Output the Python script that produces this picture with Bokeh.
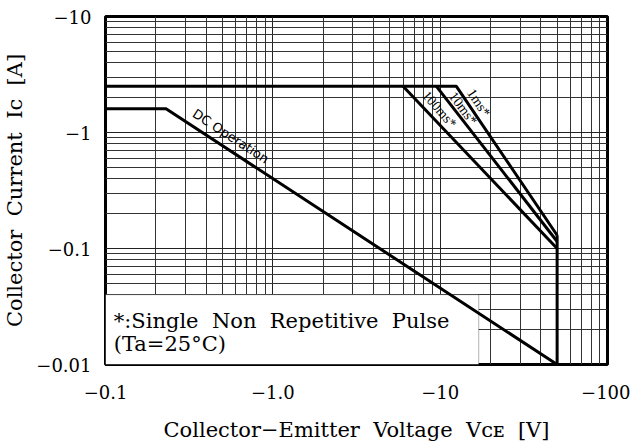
from bokeh.plotting import figure
from bokeh.models import FixedTicker, Label, BoxAnnotation
from bokeh.embed import file_html
from bokeh.resources import INLINE

# ---- data (magnitudes; axes labelled negative) ----
x_major = [0.1, 1, 10, 100]
x_labels = ["\u22120.1", "\u22121.0", "\u221210", "\u2212100"]
y_major = [0.01, 0.1, 1, 10]
y_labels = ["\u22120.01", "\u22120.1", "\u22121", "\u221210"]

dc_v = [0.1, 0.23, 50]
dc_i = [1.6, 1.6, 0.01]
p1ms_v = [0.1, 12.5, 50]
p1ms_i = [2.5, 2.5, 0.13]
p10ms_v = [9.5, 50]
p10ms_i = [2.5, 0.115]
p100ms_v = [6.0, 50]
p100ms_i = [2.5, 0.1]
vceo_v = [50, 50]
vceo_i = [0.01, 0.13]

x_minor = [m * d for d in [0.1, 1, 10] for m in range(2, 10)]
y_minor = [m * d for d in [0.01, 0.1, 1] for m in range(2, 10)]

SERIF = "DejaVu Serif"
SP = "\u00a0 "

p = figure(width=630, height=446, x_axis_type="log", y_axis_type="log",
           x_range=(0.1, 100), y_range=(0.01, 10),
           output_backend="svg", toolbar_location=None,
           min_border_left=102, min_border_right=23,
           min_border_top=16, min_border_bottom=82)
p.background_fill_color = "white"
p.border_fill_color = "white"
p.outline_line_color = "black"
p.outline_line_width = 3

p.xaxis.ticker = FixedTicker(ticks=x_major, minor_ticks=x_minor)
p.yaxis.ticker = FixedTicker(ticks=y_major, minor_ticks=y_minor)
p.xaxis.major_label_overrides = dict(zip(x_major, x_labels))
p.yaxis.major_label_overrides = dict(zip(y_major, y_labels))

for ax in (p.xaxis, p.yaxis):
    ax.axis_line_color = None
    ax.major_tick_line_color = None
    ax.minor_tick_line_color = None
    ax.major_label_text_font = SERIF
    ax.major_label_text_font_size = "18px"
    ax.major_label_text_color = "black"
    ax.axis_label_text_font = SERIF
    ax.axis_label_text_font_style = "normal"
    ax.axis_label_text_color = "black"

p.xaxis.axis_label_text_font_size = "21px"
p.yaxis.axis_label_text_font_size = "21px"
p.xaxis.major_label_standoff = 14
p.yaxis.major_label_standoff = 8
p.xaxis.axis_label = "Collector\u2212Emitter" + SP + "Voltage" + SP + "V\u1d04\u1d07" + SP + "[V]"
p.yaxis.axis_label = "Collector" + SP + "Current" + SP + "Ic" + SP + "[A]"
p.xaxis.axis_label_standoff = 16
p.yaxis.axis_label_standoff = 6

for g in (p.xgrid, p.ygrid):
    g.grid_line_color = "#222222"
    g.grid_line_width = 1
    g.minor_grid_line_color = "#333333"
    g.minor_grid_line_width = 1

# white note box
note = BoxAnnotation(left=0.1, right=17, bottom=0.01, top=0.04,
                     fill_color="white", fill_alpha=1.0,
                     line_color="black", line_width=1, level="underlay")
p.add_layout(note)

lw = 3
p.line(dc_v, dc_i, line_color="black", line_width=lw)
p.line(p1ms_v, p1ms_i, line_color="black", line_width=lw)
p.line(p10ms_v, p10ms_i, line_color="black", line_width=lw)
p.line(p100ms_v, p100ms_i, line_color="black", line_width=lw)
p.line(vceo_v, vceo_i, line_color="black", line_width=lw)

def lab(x, y, t, ang, font, size, align="center", base="middle"):
    p.add_layout(Label(x=x, y=y, text=t, angle=ang, angle_units="deg",
                       text_font=font, text_font_size=size, text_color="black",
                       text_align=align, text_baseline=base))

lab(0.56, 0.93, "DC Operation", -33, "DejaVu Sans", "13px")
lab(17.0, 1.80, "1ms*", -56, "Liberation Serif", "14px")
lab(13.7, 1.61, "10ms*", -53, "Liberation Serif", "14px")
lab(9.9, 1.58, "100ms*", -49, "Liberation Serif", "14px")

lab(0.112, 0.0239, "*:Single" + SP + "Non" + SP + "Repetitive" + SP + "Pulse", 0, SERIF, "21px", "left", "alphabetic")
lab(0.112, 0.0150, "(Ta=25\u00b0C)", 0, SERIF, "21px", "left", "alphabetic")

open("out.html", "w").write(file_html(p, INLINE))
